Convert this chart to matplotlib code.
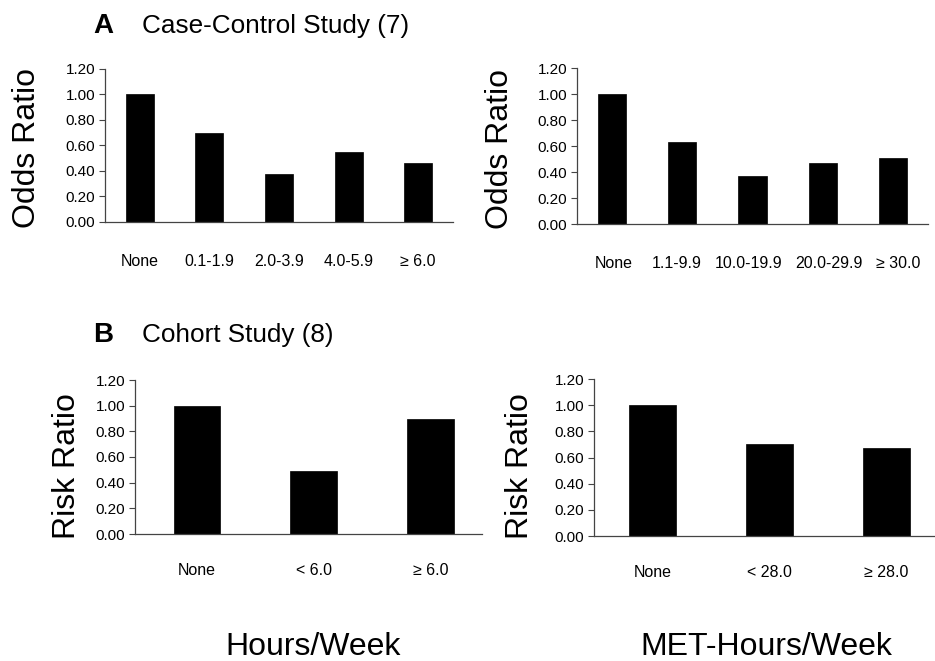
import matplotlib
matplotlib.use('Agg')
import matplotlib.pyplot as plt
import matplotlib.transforms as mtrans
import numpy as np

plt.rcParams['font.family'] = ['Liberation Sans', 'DejaVu Sans']

# data
cc_hours_cats = ['None', '0.1-1.9', '2.0-3.9', '4.0-5.9', '\u2265 6.0']
cc_hours_or = [1.00, 0.70, 0.38, 0.55, 0.46]
cc_met_cats = ['None', '1.1-9.9', '10.0-19.9', '20.0-29.9', '\u2265 30.0']
cc_met_or = [1.00, 0.63, 0.37, 0.47, 0.51]
co_hours_cats = ['None', '< 6.0', '\u2265 6.0']
co_hours_rr = [1.00, 0.49, 0.90]
co_met_cats = ['None', '< 28.0', '\u2265 28.0']
co_met_rr = [1.00, 0.70, 0.67]
yticks = [0.0, 0.2, 0.4, 0.6, 0.8, 1.0, 1.2]

W, H = 935, 661
fig = plt.figure(figsize=(W / 100, H / 100), dpi=100)


def box(x0, x1, ytop, ybot):
    # pixel box -> figure fraction
    return [x0 / W, 1 - ybot / H, (x1 - x0) / W, (ybot - ytop) / H]


def panel(rect, cats, vals, xlim, xpad):
    ax = fig.add_axes(rect)
    x = np.arange(len(cats))
    ax.bar(x, vals, width=0.4, color='black', edgecolor='black', linewidth=0.5)
    ax.set_xlim(*xlim)
    ax.set_ylim(0, 1.2)
    ax.set_yticks(yticks)
    ax.set_yticklabels(['%.2f' % v for v in yticks], fontsize=11)
    ax.set_xticks(x)
    ax.set_xticklabels(cats, fontsize=11.5)
    ax.tick_params(axis='x', length=0, pad=xpad)
    ax.tick_params(axis='y', length=4, width=0.8, pad=3, color='#444444')
    for s in ['top', 'right']:
        ax.spines[s].set_visible(False)
    for s in ['left', 'bottom']:
        ax.spines[s].set_linewidth(0.9)
        ax.spines[s].set_color('#444444')
    return ax


panel(box(105, 453, 69, 222), cc_hours_cats, cc_hours_or, (-0.5, 4.5), 23)
ax2 = panel(box(577, 928, 68, 224), cc_met_cats, cc_met_or, (-0.5, 4.5), 23)
panel(box(135, 482, 380, 534), co_hours_cats, co_hours_rr, (-0.53, 2.44), 21)
panel(box(594, 935, 379, 536), co_met_cats, co_met_rr, (-0.5, 2.415), 21)

# the long labels sit a bit off-centre in the original so they don't collide
for lab, dx in zip(ax2.get_xticklabels(), [2, -6, -4, 6, 5]):
    lab.set_transform(lab.get_transform() + mtrans.ScaledTranslation(dx / 100, 0, fig.dpi_scale_trans))

# y labels
for (px, py, txt) in [(27, 148, 'Odds Ratio'), (500, 149, 'Odds Ratio'),
                      (67, 466, 'Risk Ratio'), (520, 466, 'Risk Ratio')]:
    fig.text(px / W, 1 - py / H, txt, rotation=90, fontsize=23,
             ha='center', va='center')

# panel titles
fig.text(93 / W, 1 - 33 / H, 'A', fontsize=20, weight='bold', va='baseline')
fig.text(142 / W, 1 - 33 / H, 'Case-Control Study (7)', fontsize=18.8, va='baseline')
fig.text(93 / W, 1 - 342 / H, 'B', fontsize=20, weight='bold', va='baseline')
fig.text(142 / W, 1 - 342 / H, 'Cohort Study (8)', fontsize=18.8, va='baseline')

# bottom axis captions
fig.text(313 / W, 1 - 655 / H, 'Hours/Week', fontsize=23, ha='center', va='baseline')
fig.text(766 / W, 1 - 655 / H, 'MET-Hours/Week', fontsize=23, ha='center', va='baseline')

fig.savefig('out.png', dpi=100)
